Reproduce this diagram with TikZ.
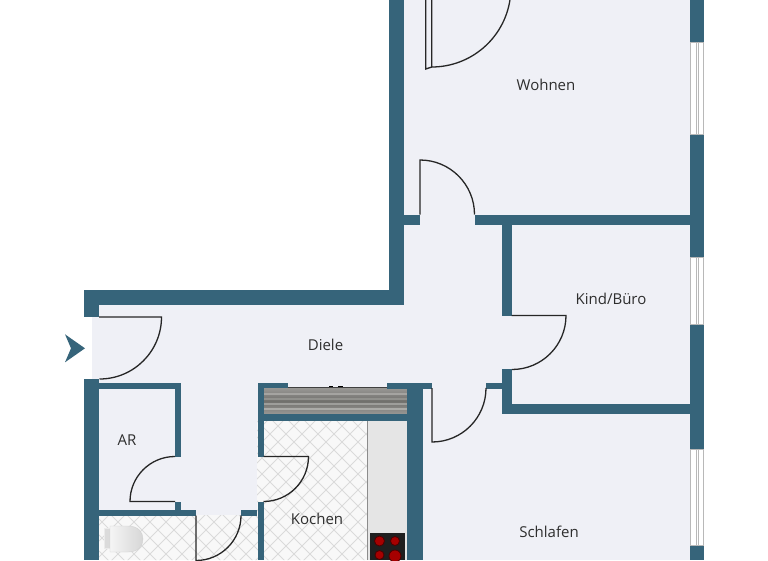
\documentclass[tikz,border=0pt]{standalone}
\usepackage{fontspec}
\setmainfont{Open Sans}
\definecolor{wallblue}{HTML}{36647A}
\definecolor{floorgrey}{HTML}{EFF0F6}
\definecolor{tilebase}{HTML}{F8F8F8}
\definecolor{tileline}{HTML}{DADADA}
\definecolor{textdark}{HTML}{2E2E2E}
\definecolor{worktop}{HTML}{7E7D79}
\begin{document}
\begin{tikzpicture}[x=1pt,y=-1pt,
    wall/.style = {fill=wallblue,draw=none},
    room/.style = {font=\fontsize{15}{18}\selectfont,text=textdark,inner sep=0pt},
    door/.style = {draw=black!85,line width=1.3pt},
    pane/.style = {draw=black!28,line width=1pt},
    tile/.style = {draw=tileline,line width=0.8pt},
    burner/.style = {fill=red!65!black,draw=black!70!red,line width=0.8pt}]
    \useasboundingbox (0,0) rectangle (768,560);
    \fill[floorgrey] (404,0) rectangle (690,560);
    \fill[floorgrey] (92,305) rectangle (404,560);
    \begin{scope}
      \clip (99,515) rectangle (257,560) (257,420) rectangle (367,560);
      \fill[tilebase] (99,420) rectangle (367,560);
      \foreach \k in {-10,...,40} {
        \draw[tile] (\k*16-100,400) -- ++(180,180);
        \draw[tile] (\k*16-100,580) -- ++(180,-180);
      }
    \end{scope}
    \fill[black!10] (367,421) rectangle (407,560);
    \draw[black!45,line width=0.8pt] (367,420) -- (367,560);
    \shade[top color=worktop!80!white,bottom color=worktop!80!white,middle color=worktop!90!black] (263,388) rectangle (407,414);
    \foreach \ya/\yb/\tone in {393/395/70,398/400/85,403/405/75,408/410/65} {
      \fill[worktop!\tone!white] (263,\ya) rectangle (407,\yb);
    }
    \foreach \xa/\ya/\xb/\yb in {
      388.5/0/404/305, 84/290/404/305, 84/290/99/317, 84/379/99/560,
      689.5/0/704/42, 689.5/134/704/257, 689.5/324/704/449, 689.5/545/704/560,
      404/214.5/420/225, 475/214.5/690/225, 501.5/225/511.5/315.5, 501.5/369/511.5/414,
      501.5/404/690/414, 486/382.5/502/388.5, 99/382.5/181/388.5, 175/382.5/181/456.5,
      175/501.5/181/510, 99/510/196/515.5, 241/510/257/515.5, 257.5/382.5/263.5/456.5,
      257.5/501.5/263.5/560, 257.5/382.5/288/388, 387/382.5/432/388.5, 406.5/382.5/422.5/560,
      263.5/414/407/420.5} {
      \fill[wall] (\xa,\ya) rectangle (\xb,\yb);
    }
    \foreach \ya/\yb in {42/134,257/324,449/545} {
      \fill[white] (689.5,\ya) rectangle (704,\yb);
      \draw[pane] (690,\ya) -- (690,\yb) (703.5,\ya) -- (703.5,\yb) (690,\ya) -- (703.5,\ya) (690,\yb) -- (703.5,\yb);
      \draw[pane,line width=0.6pt] (696,\ya) -- (696,\yb) (698,\ya) -- (698,\yb);
    }
    \draw[black!75,line width=1.2pt] (288,387.3) -- (387,387.3);
    \draw[black,line width=1.8pt] (329,386.5) -- (333,386.5) (338,386.5) -- (343,386.5);
    \draw[door] (99,317) -- (161.5,317) arc[start angle=0,end angle=90,radius=62];
    \draw[door] (420,214.5) -- (420,160) arc[start angle=-90,end angle=0,radius=54.5];
    \draw[door] (511.5,315.5) -- (566,315.5) arc[start angle=0,end angle=90,radius=54];
    \draw[door] (486,388) arc[start angle=0,end angle=90,radius=54] -- (432,388);
    \draw[door] (175,501.5) -- (130,501.5) arc[start angle=180,end angle=270,radius=45];
    \draw[door] (263.5,456.5) -- (308.5,456.5) arc[start angle=0,end angle=90,radius=45];
    \draw[door] (241,515.5) arc[start angle=0,end angle=90,radius=45] -- (196,515.5);
    \draw[door] (431.7,-12.2) -- (431.7,67) arc[start angle=90,end angle=9,radius=79.2];
    \draw[door] (431.7,67) -- (425.7,69) -- (425.7,-12);
    \fill[black!88] (370,532.7) rectangle (405,560);
    \foreach \cx/\cy/\r in {379.5/541/5,395/541/4.5,379.5/555/4.5,395/556/6} {
      \filldraw[burner] (\cx,\cy) circle[radius=\r];
    }
    \fill[black!14,draw=black!8] (104,528) rectangle (110,548);
    \shade[left color=black!4,right color=black!16,draw=black!18]
      (110,526) -- (128,526) .. controls (138,526) and (143,532) .. (143,539)
      .. controls (143,546) and (138,552) .. (128,552) -- (110,552) -- cycle;
    \fill[wallblue] (65,334.3) -- (85,348.3) -- (65,362.3) -- (71,348.3) -- cycle;
    \node[room] (wohnen) at (546,85) {Wohnen};
    \node[room] (kind) at (611,298.5) {Kind/Büro};
    \node[room] (diele) at (325.5,344.5) {Diele};
    \node[room] (ar) at (127,440.5) {AR};
    \node[room] (kochen) at (317,519) {Kochen};
    \node[room] (schlafen) at (549,532) {Schlafen};
\end{tikzpicture}
\end{document}
